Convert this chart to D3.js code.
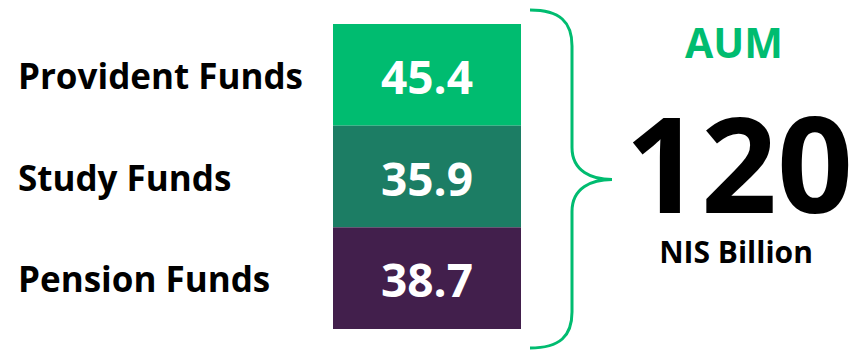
<!DOCTYPE html>
<html><head><meta charset="utf-8">
<script src="https://cdn.jsdelivr.net/npm/d3@7"></script>
<style>html,body{margin:0;padding:0;background:#fff;}svg{display:block;font-family:"Open Sans",sans-serif;}</style>
</head><body>
<svg id="chart" width="849" height="351"></svg>
<script>
const categories = ["Provident Funds", "Study Funds", "Pension Funds"];
const values = [45.4, 35.9, 38.7];
const colors = ["#00BC70", "#1C7D64", "#421F4C"];
const totalLabel = "120";
const titleLabel = "AUM";
const unitLabel = "NIS Billion";

(function () {
const svg = d3.select("#chart");
const y = d3.scaleBand().domain(categories).range([24, 329]).padding(0);
const x0 = 333, x1 = 521;

svg.selectAll("rect.seg").data(categories).join("rect")
  .attr("class", "seg")
  .attr("x", x0).attr("width", x1 - x0)
  .attr("y", d => y(d)).attr("height", y.bandwidth())
  .attr("fill", (d, i) => colors[i]);

svg.selectAll("text.val").data(categories).join("text")
  .attr("class", "val")
  .attr("x", (x0 + x1) / 2)
  .attr("y", d => y(d) + y.bandwidth() / 2 + 19)
  .attr("text-anchor", "middle")
  .attr("font-size", 46).attr("font-weight", 700).attr("fill", "#fff")
  .text((d, i) => values[i].toFixed(1));

svg.selectAll("text.cat").data(categories).join("text")
  .attr("class", "cat")
  .attr("x", 18)
  .attr("y", d => y(d) + y.bandwidth() / 2 + 14)
  .attr("font-size", 35).attr("font-weight", 700).attr("fill", "#000")
  .text(d => d);

// brace
const bTop = 10, bBot = 348, mid = (y.range()[0] + y.range()[1]) / 2 + 3;
const bx = 530, vx = 572, tip = 612;
const p = d3.path();
p.moveTo(bx, bTop);
p.bezierCurveTo(bx + 30, bTop, vx, bTop + 12, vx, bTop + 36);
p.lineTo(vx, mid - 32);
p.bezierCurveTo(vx, mid - 8, tip - 20, mid, tip, mid);
p.bezierCurveTo(tip - 20, mid, vx, mid + 8, vx, mid + 32);
p.lineTo(vx, bBot - 36);
p.bezierCurveTo(vx, bBot - 12, bx + 30, bBot, bx, bBot);
svg.append("path").attr("d", p.toString())
  .attr("fill", "none").attr("stroke", "#00BC70").attr("stroke-width", 3);

svg.append("text").attr("x", 734).attr("y", 58).attr("text-anchor", "middle")
  .attr("font-size", 41).attr("font-weight", 700).attr("fill", "#00BC70").text(titleLabel);
svg.append("text").attr("x", 739).attr("y", 213).attr("text-anchor", "middle")
  .attr("font-size", 133).attr("font-weight", 700).attr("fill", "#000").text(totalLabel);
svg.append("text").attr("x", 736).attr("y", 263).attr("text-anchor", "middle")
  .attr("font-size", 30).attr("font-weight", 700).attr("fill", "#000").text(unitLabel);
})();
</script>
</body></html>
